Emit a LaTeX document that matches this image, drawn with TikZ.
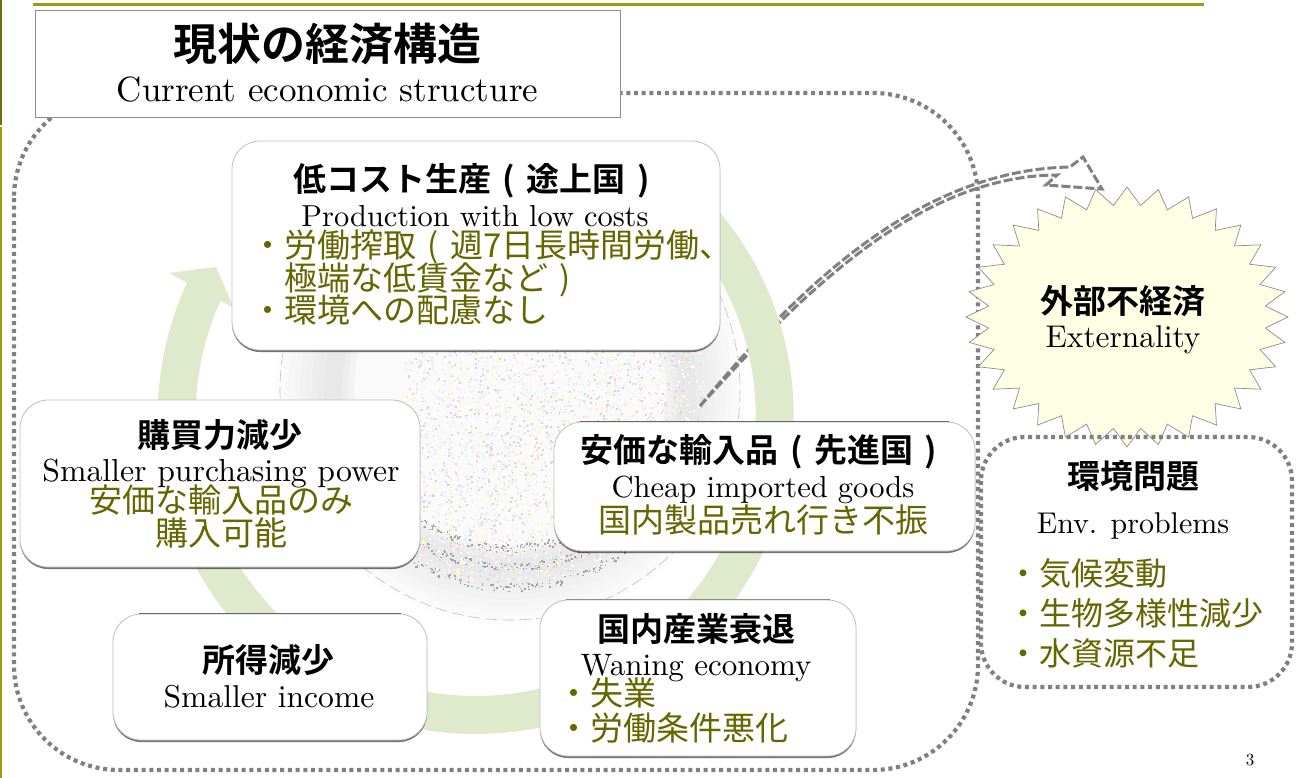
\documentclass[tikz,border=0pt]{standalone}
\usepackage{fontspec}
\usetikzlibrary{shadows}
\setmainfont{lmroman10-regular}[Extension=.otf]
\newfontfamily\cjk{Noto Sans CJK JP}
\newfontfamily\cjkb{Noto Sans CJK JP Bold}
\definecolor{olivetext}{HTML}{666600}
\definecolor{olivebar}{HTML}{9C9C12}
\definecolor{olivedark}{HTML}{6E6E0A}
\definecolor{ringgreen}{HTML}{DFEACD}
\definecolor{burst}{HTML}{FFFFE6}
\definecolor{dotgray}{HTML}{808080}
\newcommand{\lpar}{\hspace{.35em}(\hspace{.35em}}
\newcommand{\rpar}{\hspace{.35em})}
\newcommand{\ensize}[1]{\fontsize{#1}{#1}\selectfont}
\tikzset{
  box/.style={rounded corners=28pt,fill=white,draw=black!25,line width=.8pt,
    drop shadow={shadow xshift=0pt,shadow yshift=-2pt,fill=black,opacity=.55}},
  dotted box/.style={draw=dotgray,line width=4.2pt,rounded corners=#1,dash pattern=on 4pt off 3.7pt},
  head/.style={font=\cjkb\fontsize{33}{33}\selectfont,anchor=base,inner sep=0pt,text=black},
  en/.style={font=\fontsize{30}{30}\selectfont,anchor=base,inner sep=0pt,text=black},
  oli/.style={font=\cjk\fontsize{33}{33}\selectfont,anchor=base,inner sep=0pt,text=olivetext},
  olil/.style={oli,anchor=base west},
  envl/.style={olil,font=\cjk\fontsize{32}{32}\selectfont},
  arrowline/.style={draw=dotgray,line width=3pt,dash pattern=on 9pt off 3pt},
  topline/.style={draw=black!60,line width=1.3pt},
}
\begin{document}
\begin{tikzpicture}[x=1pt,y=-1pt]
\useasboundingbox (0,0) rectangle (1297,778);
\fill[white] (0,0) rectangle (1297,778);
% slide frame
\fill[olivedark] (0,0) rectangle (1.6,125);
\fill[olivebar] (0,127) rectangle (1.6,778);
\fill[olivebar] (33,3.5) rectangle (1204,6.5);
% background swirl: stepped grey rings, a pale core, speckle
\begin{scope}
\clip (510,390) circle (235);
\foreach \r/\g in {235/1,228/2,222/3,216/4,210/5,204/6,198/7,192/8,186/9,180/9,174/9,168/7,162/5}{
  \fill[black!\g] (510,390) circle (\r);
}
\fill[black!2] (510,390) circle (156);
\begin{scope}
\clip (510,390) circle (195);
\pgfmathsetseed{7}
\foreach \i in {1,...,5000}{
  \pgfmathsetmacro{\px}{405+rnd*300}
  \pgfmathsetmacro{\py}{350+rnd*240}
  \pgfmathsetmacro{\pc}{int(rnd*5)}
  \ifnum\pc=0\def\pcol{black!16}\fi
  \ifnum\pc=1\def\pcol{magenta!14}\fi
  \ifnum\pc=2\def\pcol{cyan!14}\fi
  \ifnum\pc=3\def\pcol{yellow!25}\fi
  \ifnum\pc=4\def\pcol{white}\fi
  \fill[\pcol] (\px,\py) rectangle +(1.8,1.8);
}
\end{scope}
\foreach \i in {1,...,800}{
  \pgfmathsetmacro{\pa}{15+rnd*150}
  \pgfmathsetmacro{\pk}{int(rnd*3)}
  \ifnum\pk=0\def\pb{158}\fi
  \ifnum\pk=1\def\pb{177}\fi
  \ifnum\pk=2\def\pb{197}\fi
  \pgfmathsetmacro{\pr}{\pb+(rnd-.5)*8}
  \fill[black!36] ({510+\pr*cos(\pa)},{390+\pr*sin(\pa)}) rectangle +(1.5,1.5);
}
\draw[black!25,line width=.6pt,dash pattern=on 12pt off 5pt] (510,390) circle (230);
\end{scope}
% outer dotted region
\draw[dotted box=105pt] (14,93) rectangle (978,770);
% externality arrow, below the ring
\coordinate (tail) at (700,406);
\coordinate (upend) at (1070,167);
\coordinate (loend) at (1057,175);
\coordinate (htop) at (1083,157);
\coordinate (hlow) at (1046,185);
\coordinate (htip) at (1102,189);
\draw[arrowline] (tail) .. controls (800,285) and (920,170) .. (upend) -- (htop) -- (htip) -- (hlow) -- (loend) .. controls (920,176) and (805,290) .. (tail);
% ring
\draw[ringgreen,line width=38pt] plot[domain=-50:205,samples=90,smooth] ({475.7+299*cos(\x)},{416+299*sin(\x)});
\fill[ringgreen] (169,273) -- (216,267) -- (234,308) -- cycle;
% burst
\draw[fill=burst,draw=black!45,line width=.7pt] plot[domain=0:63,samples=64] ({1127+(mod(\x,2)==0?161:139)*cos(\x*5.625)},{317+(mod(\x,2)==0?130:112)*sin(\x*5.625)}) -- cycle;
% environment region
\draw[dotted box=44pt] (981,437) rectangle (1292,687);
% boxes
\node[box,minimum width=488pt,minimum height=209pt,inner sep=0pt] (low) at (476,245.5) {};
\node[box,minimum width=400pt,minimum height=167pt,inner sep=0pt] (buy) at (220,483.5) {};
\node[box,minimum width=314pt,minimum height=126pt,inner sep=0pt] (income) at (270,677) {};
\node[box,minimum width=421pt,minimum height=129pt,inner sep=0pt] (cheap) at (764.5,486.5) {};
\node[box,minimum width=316pt,minimum height=156pt,inner sep=0pt] (wane) at (698,678) {};
\draw[topline] ([xshift=26pt]income.north west) -- ([xshift=-26pt]income.north east);
\draw[topline] ([xshift=26pt]cheap.north west) -- ([xshift=-26pt]cheap.north east);
\draw[topline,draw=black!45] ([xshift=26pt]wane.north west) -- ([xshift=-26pt]wane.north east);
% title
\node[draw=black!45,fill=white,line width=.8pt,minimum width=585pt,minimum height=107pt,inner sep=0pt] (titlebox) at (327.5,63.5) {};
\node[head,font=\cjkb\fontsize{44}{44}\selectfont] (tj) at (327.5,61) {現状の経済構造};
\node[en,font=\ensize{35}] (te) at (327.5,102) {Current economic structure};
% top box
\node[head] (lowj) at (471.5,191) {低コスト生産\lpar 途上国\rpar};
\node[en,font=\ensize{30.4}] (lowe) at (475,226) {Production with low costs};
\node[olil] (low1) at (251,257) {・労働搾取\lpar 週7日長時間労働、};
\node[olil] (low2) at (284,290) {極端な低賃金など\rpar};
\node[olil] (low3) at (251,322) {・環境への配慮なし};
% buy
\node[head] (buyj) at (220,447) {購買力減少};
\node[en,font=\ensize{31.8}] (buye) at (221,481) {Smaller purchasing power};
\node[oli] (buy1) at (221,512) {安価な輸入品のみ};
\node[oli] (buy2) at (221,545) {購入可能};
% income
\node[head] (incj) at (268,672) {所得減少};
\node[en,font=\ensize{31.6}] (ince) at (269,707) {Smaller income};
% cheap
\node[head] (chj) at (759,462) {安価な輸入品\lpar 先進国\rpar};
\node[en,font=\ensize{30.5}] (che) at (763,497) {Cheap imported goods};
\node[oli] (ch1) at (763,532) {国内製品売れ行き不振};
% waning
\node[head] (wj) at (696,641) {国内産業衰退};
\node[en,font=\ensize{31}] (we) at (696,675) {Waning economy};
\node[olil] (w1) at (557,705) {・失業};
\node[olil] (w2) at (557,740) {・労働条件悪化};
% externality
\node[head] (xj) at (1123,313) {外部不経済};
\node[en,font=\ensize{31.4}] (xe) at (1123,347) {Externality};
% env
\node[head] (ej) at (1133,488) {環境問題};
\node[en] (ee) at (1133,533) {Env. problems};
\node[envl] (e1) at (1007,585) {・気候変動};
\node[envl] (e2) at (1007,625) {・生物多様性減少};
\node[envl] (e3) at (1007,665) {・水資源不足};
\node[en,font=\ensize{17}] (pg) at (1250,765) {3};
\end{tikzpicture}
\end{document}
